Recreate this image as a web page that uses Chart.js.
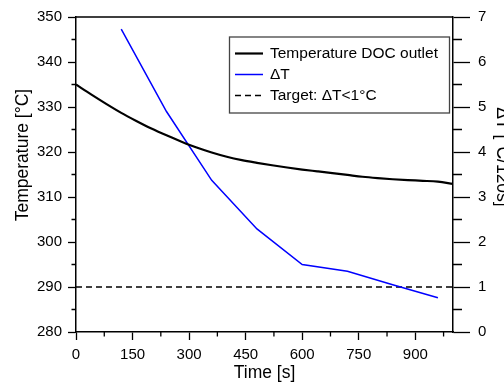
<!DOCTYPE html>
<html>
<head>
<meta charset="utf-8">
<script src="https://cdn.jsdelivr.net/npm/chart.js@4"></script>
<style>
  html, body { margin: 0; padding: 0; background: #fff; }
  #box { width: 504px; height: 383px; }
</style>
</head>
<body>
<div id="box"><canvas id="grafico" width="504" height="383"></canvas></div>
<script>
// Temperatura all'uscita del DOC (asse sinistro)
const tempoTemp = [0, 40, 80, 120, 160, 200, 240, 280, 320, 360, 400, 440, 480, 520, 560, 600, 640, 680, 720, 760, 800, 840, 880, 920, 960, 1000];
const temperatura = [335.0, 332.8, 330.7, 328.7, 326.9, 325.2, 323.7, 322.3, 321.0, 319.9, 318.95, 318.2, 317.6, 317.05, 316.55, 316.1, 315.7, 315.3, 314.9, 314.5, 314.2, 313.95, 313.75, 313.6, 313.4, 312.9];

// Delta T ogni 120 s (asse destro)
const tempoDelta = [120, 240, 360, 480, 600, 720, 840, 960];
const deltaT = [6.73, 4.90, 3.37, 2.29, 1.50, 1.35, 1.05, 0.76];

// Soglia obiettivo
const tempoSoglia = [0, 1000];
const soglia = [1, 1];

// Tacche degli assi
const xTacche = [0, 150, 300, 450, 600, 750, 900];
const xMinori = [75, 225, 375, 525, 675, 825, 975];
const yTacche = [280, 290, 300, 310, 320, 330, 340, 350];
const yMinori = [285, 295, 305, 315, 325, 335, 345];
const y2Tacche = [0, 1, 2, 3, 4, 5, 6, 7];
const y2Minori = [0.5, 1.5, 2.5, 3.5, 4.5, 5.5, 6.5];

const punti = (xs, ys) => xs.map((x, i) => ({ x: x, y: ys[i] }));
const fissaTacche = valori => scala => { scala.ticks = valori.map(v => ({ value: v })); };

Chart.defaults.font.family = "'Liberation Sans', Arial, sans-serif";
Chart.defaults.font.size = 15;
Chart.defaults.color = '#000';

// Titoli, bordo superiore, tacche minori e legenda
const decorazioni = {
    id: 'decorazioni',
    afterDraw(chart) {
        const ctx = chart.ctx;
        const a = chart.chartArea;
        const sx = chart.scales.x, sy = chart.scales.y, sy2 = chart.scales.y2;
        ctx.save();
        ctx.strokeStyle = '#000';
        ctx.lineWidth = 1.3;
        ctx.beginPath();
        ctx.moveTo(a.left, a.top);
        ctx.lineTo(a.right, a.top);
        xMinori.forEach(v => {
            const p = sx.getPixelForValue(v);
            ctx.moveTo(p, a.bottom);
            ctx.lineTo(p, a.bottom + 4.5);
        });
        yMinori.forEach(v => {
            const p = sy.getPixelForValue(v);
            ctx.moveTo(a.left, p);
            ctx.lineTo(a.left - 4.5, p);
        });
        y2Minori.forEach(v => {
            const p = sy2.getPixelForValue(v);
            ctx.moveTo(a.right, p);
            ctx.lineTo(a.right + 9, p);
        });
        ctx.stroke();

        // titoli degli assi
        ctx.fillStyle = '#000';
        ctx.font = "17.5px 'Liberation Sans', Arial, sans-serif";
        ctx.textAlign = 'center';
        ctx.textBaseline = 'alphabetic';
        ctx.fillText('Time [s]', (a.left + a.right) / 2, 378);
        ctx.save();
        ctx.translate(27.5, 155);
        ctx.rotate(-Math.PI / 2);
        ctx.fillText('Temperature [°C]', 0, 0);
        ctx.restore();
        ctx.save();
        ctx.translate(496.5, 157);
        ctx.rotate(Math.PI / 2);
        ctx.fillText('ΔT [°C/120s]', 0, 0);
        ctx.restore();

        // legenda
        const lx = 229.5, ly = 37, lw = 220, lh = 76;
        ctx.fillStyle = '#fff';
        ctx.fillRect(lx, ly, lw, lh);
        ctx.strokeStyle = '#444';
        ctx.lineWidth = 1.3;
        ctx.strokeRect(lx, ly, lw, lh);
        ctx.font = "15.5px 'Liberation Sans', Arial, sans-serif";
        ctx.textAlign = 'left';
        ctx.textBaseline = 'middle';
        const righe = [53.5, 74.5, 95.5];
        chart.data.datasets.forEach((ds, i) => {
            const y = righe[i];
            ctx.strokeStyle = ds.borderColor;
            ctx.lineWidth = ds.borderWidth;
            ctx.setLineDash(ds.borderDash || []);
            ctx.beginPath();
            ctx.moveTo(235, y);
            ctx.lineTo(263, y);
            ctx.stroke();
            ctx.setLineDash([]);
            ctx.fillStyle = '#000';
            ctx.fillText(ds.label, 270, y + 0.5);
        });
        ctx.restore();
    }
};

new Chart(document.getElementById('grafico').getContext('2d'), {
    type: 'line',
    data: {
        datasets: [{
            label: 'Temperature DOC outlet',
            data: punti(tempoTemp, temperatura),
            yAxisID: 'y',
            borderColor: '#000',
            borderWidth: 2.2,
            cubicInterpolationMode: 'monotone'
        }, {
            label: 'ΔT',
            data: punti(tempoDelta, deltaT),
            yAxisID: 'y2',
            borderColor: '#0000ff',
            borderWidth: 1.5
        }, {
            label: 'Target: ΔT<1°C',
            data: punti(tempoSoglia, soglia),
            yAxisID: 'y2',
            borderColor: '#000',
            borderWidth: 1.5,
            borderDash: [6, 4]
        }]
    },
    options: {
        responsive: false,
        animation: false,
        layout: { padding: { top: 17, left: 0, right: 0, bottom: 0 } },
        elements: { point: { radius: 0 }, line: { tension: 0 } },
        plugins: { legend: { display: false }, tooltip: { enabled: false } },
        scales: {
            x: {
                type: 'linear',
                min: 0,
                max: 1000,
                afterBuildTicks: fissaTacche(xTacche),
                afterFit: s => { s.height = 51; },
                grid: { drawOnChartArea: false, tickLength: 8, tickColor: '#000', tickWidth: 1.3 },
                border: { color: '#000', width: 1.5 },
                ticks: { padding: 6, maxRotation: 0 }
            },
            y: {
                position: 'left',
                min: 280,
                max: 350,
                afterBuildTicks: fissaTacche(yTacche),
                afterFit: s => { s.width = 76; },
                grid: { drawOnChartArea: false, tickLength: 8, tickColor: '#000', tickWidth: 1.3 },
                border: { color: '#000', width: 1.5 },
                ticks: { padding: 6 }
            },
            y2: {
                position: 'right',
                min: 0,
                max: 7,
                afterBuildTicks: fissaTacche(y2Tacche),
                afterFit: s => { s.width = 51; },
                grid: { drawOnChartArea: false, tickLength: 17, tickColor: '#000', tickWidth: 1.3 },
                border: { color: '#000', width: 1.5 },
                ticks: { padding: 8 }
            }
        }
    },
    plugins: [decorazioni]
});
</script>
</body>
</html>
